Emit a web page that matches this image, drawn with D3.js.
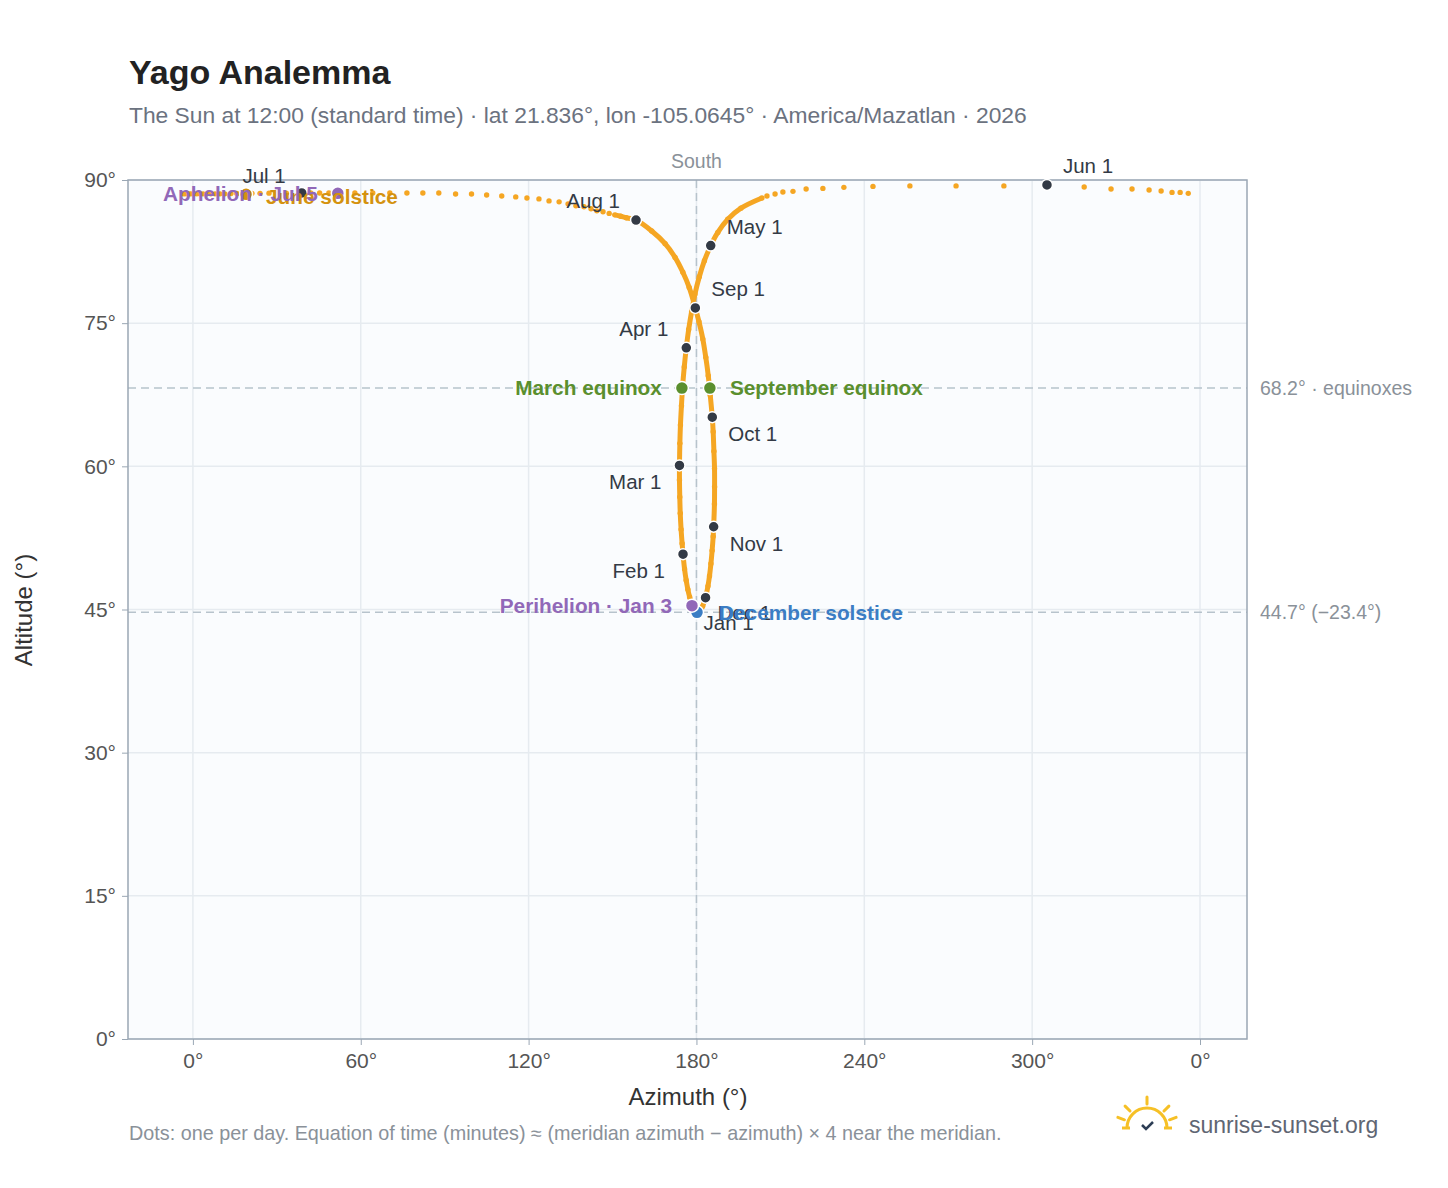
<!DOCTYPE html>
<html>
<head>
<meta charset="utf-8">
<script src="https://cdn.jsdelivr.net/npm/d3@7"></script>
<style>
  body { margin: 0; background: #fff; font-family: "Liberation Sans", Arial, sans-serif; }
</style>
</head>
<body>
<svg id="chart" width="1448" height="1188"></svg>
<script>
// noon sun positions (azimuth unwrapped to the plotted domain)
var dates = ['Jan 1','Jan 6','Jan 11','Jan 16','Jan 21','Jan 26','Feb 1','Feb 5','Feb 10','Feb 15','Feb 20','Feb 25',
  'Mar 1','Mar 7','Mar 12','Mar 17','Mar 22','Mar 27','Apr 1','Apr 6','Apr 11','Apr 16','Apr 21','Apr 26',
  'May 1','May 6','May 11','May 16','May 20','May 21','May 22','May 23','May 24','May 25','May 26','May 27','May 28','May 29','May 30','May 31',
  'Jun 1','Jun 2','Jun 3','Jun 4','Jun 5','Jun 6','Jun 7','Jun 8','Jun 9',
  'Jun 10','Jun 11','Jun 12','Jun 13','Jun 14','Jun 15','Jun 16','Jun 17','Jun 18','Jun 19','Jun 20','Jun 21','Jun 22','Jun 23','Jun 24','Jun 25','Jun 26','Jun 27','Jun 28','Jun 29','Jun 30',
  'Jul 1','Jul 2','Jul 3','Jul 4','Jul 5','Jul 6','Jul 7','Jul 8','Jul 9','Jul 10','Jul 11','Jul 12','Jul 13','Jul 14','Jul 15','Jul 16','Jul 17','Jul 18','Jul 19','Jul 20',
  'Jul 21','Jul 22','Jul 23','Jul 24','Jul 25','Jul 26','Jul 27','Jul 28','Jul 29','Jul 30','Jul 31',
  'Aug 1','Aug 6','Aug 11','Aug 16','Aug 21','Aug 26','Sep 1','Sep 5','Sep 10','Sep 15','Sep 20','Sep 25',
  'Oct 1','Oct 5','Oct 10','Oct 15','Oct 20','Oct 25','Nov 1','Nov 4','Nov 9','Nov 14','Nov 19','Nov 24',
  'Dec 1','Dec 4','Dec 9','Dec 14','Dec 19','Dec 24','Dec 29'];
var azimuth = [178.95,178.25,177.55,176.93,176.32,175.75,175.2,174.88,174.51,174.21,174.04,173.93,
  173.93,174.07,174.28,174.64,175.06,175.64,176.37,177.22,178.29,179.47,181.02,182.85,
  185.1,187.64,191.2,195.9,203.4,205.2,208.1,210.9,214.5,219.2,225.2,232.7,243.1,256.3,272.8,289.9,
  305.3,318.6,328.2,335.7,341.8,346.1,350.0,352.9,355.8,
  -3.6,-2.9,-2.1,-1.4,-0.7,0.4,1.4,2.5,3.6,5.0,6.4,7.9,9.7,11.4,13.6,15.7,18.2,21.1,24.0,27.2,33.4,
  38.9,42.1,45.3,48.6,51.8,57.9,64.3,70.4,76.5,82.2,87.9,93.9,99.6,105.0,110.4,115.4,119.4,123.7,127.3,130.9,
  134.1,136.9,139.8,142.3,144.4,146.6,148.8,150.8,152.9,154.9,156.7,
  158.4,164.0,168.8,172.35,175.14,177.4,179.6,180.89,182.27,183.33,184.22,184.92,
  185.66,185.98,186.24,186.46,186.48,186.43,186.15,185.98,185.6,185.17,184.67,184.11,
  183.25,182.87,182.19,181.5,180.8,180.07,179.34];
var altitude = [45.16,45.64,46.32,47.1,48.07,49.25,50.8,51.91,53.39,55.08,56.78,58.58,
  60.1,62.41,64.33,66.36,68.38,70.4,72.42,74.34,76.25,78.06,79.86,81.55,
  83.13,84.51,85.88,87.05,88.12,88.33,88.54,88.75,88.81,89.06,89.12,89.23,89.33,89.38,89.38,89.38,
  89.48,89.27,89.06,89.06,88.96,88.85,88.7,88.7,88.6,
  88.55,88.55,88.55,88.55,88.55,88.55,88.55,88.55,88.55,88.55,88.55,88.55,88.55,88.55,88.58,88.58,88.6,88.6,88.6,88.62,88.62,
  88.64,88.64,88.64,88.64,88.64,88.64,88.64,88.64,88.64,88.64,88.64,88.54,88.54,88.43,88.33,88.23,88.12,88.02,87.81,87.71,
  87.5,87.29,87.19,86.98,86.77,86.67,86.5,86.35,86.2,86.05,85.93,
  85.8,84.65,83.33,81.89,80.33,78.75,76.6,75.16,73.35,71.43,69.5,67.48,
  65.15,63.62,61.59,59.77,57.85,56.05,53.67,52.66,51.17,49.8,48.52,47.45,
  46.24,45.9,45.33,44.94,44.76,44.76,44.86];

// first-of-month markers, label offsets in px
var monthLabels = ['Jan 1','Feb 1','Mar 1','Apr 1','May 1','Jun 1','Jul 1','Aug 1','Sep 1','Oct 1','Nov 1','Dec 1'];
var monthLabelDx = [10,-18,-18,-18,16,16,-16,-16,16,16,16,12];
var monthLabelDy = [22,24,24,-12,-12,-12,-10,-12,-12,24,24,22];
var monthLabelAnchor = ['start','end','end','end','start','start','end','end','start','start','start','start'];

var events = ['March equinox','September equinox','December solstice','June solstice','Perihelion · Jan 3','Aphelion · Jul 5'];
var eventAz = [174.8,184.8,180.2,19.0,178.4,51.8];
var eventAlt = [68.2,68.2,44.7,88.5,45.4,88.6];
var eventColor = ['#5a8f2e','#5a8f2e','#3b7dc4','#d4920f','#9168b8','#9168b8'];
var eventDx = [-20,20,22,20,-20,-20];
var eventDy = [7,7,8,10,7,8];
var eventAnchor = ['end','start','start','start','end','end'];

var xTicks = [0,60,120,180,240,300,360];
var yTicks = [0,15,30,45,60,75,90];
var refLines = [68.2,44.7];
var refLabels = ['68.2° · equinoxes','44.7° (−23.4°)'];

var svg = d3.select('#chart');
var margin = {left: 128, top: 180, right: 1247, bottom: 1039};
var x = d3.scaleLinear().domain([-23.2, 376.8]).range([margin.left, margin.right]);
var y = d3.scaleLinear().domain([0, 90]).range([margin.bottom, margin.top]);

var pts = dates.map(function(d, i) { return {date: d, az: azimuth[i], alt: altitude[i]}; });

svg.append('text').attr('x', 129).attr('y', 84).attr('font-size', 34).attr('font-weight', 'bold')
  .attr('fill', '#222').text('Yago Analemma');
svg.append('text').attr('x', 129).attr('y', 123).attr('font-size', 22.8).attr('fill', '#6b7280')
  .text('The Sun at 12:00 (standard time) · lat 21.836°, lon -105.0645° · America/Mazatlan · 2026');

svg.append('rect').attr('x', margin.left).attr('y', margin.top)
  .attr('width', margin.right - margin.left).attr('height', margin.bottom - margin.top)
  .attr('fill', '#fafcfe');

var grid = svg.append('g');
grid.selectAll('.vx').data(xTicks).enter().append('line')
  .attr('x1', x).attr('x2', x).attr('y1', margin.top).attr('y2', margin.bottom)
  .attr('stroke', '#e6ebf0').attr('stroke-width', 1.5);
grid.selectAll('.hy').data(yTicks).enter().append('line')
  .attr('y1', y).attr('y2', y).attr('x1', margin.left).attr('x2', margin.right)
  .attr('stroke', '#e6ebf0').attr('stroke-width', 1.5);

var xAxis = svg.append('g').attr('transform', 'translate(0,' + margin.bottom + ')')
  .call(d3.axisBottom(x).tickValues(xTicks).tickSize(6).tickPadding(8)
    .tickFormat(function(d) { return (d % 360) + '°'; }));
var yAxis = svg.append('g').attr('transform', 'translate(' + margin.left + ',0)')
  .call(d3.axisLeft(y).tickValues(yTicks).tickSize(6).tickPadding(6)
    .tickFormat(function(d) { return d + '°'; }));
[xAxis, yAxis].forEach(function(a) {
  a.select('.domain').remove();
  a.selectAll('line').attr('stroke', '#9aa7b4');
  a.selectAll('text').attr('font-size', 21).attr('fill', '#555')
    .attr('font-family', '"Liberation Sans", Arial, sans-serif');
});

// reference lines
svg.selectAll('.ref').data(refLines).enter().append('line')
  .attr('x1', margin.left).attr('x2', margin.right).attr('y1', y).attr('y2', y)
  .attr('stroke', '#b7c3cc').attr('stroke-width', 1.5).attr('stroke-dasharray', '8,5');
svg.selectAll('.reftext').data(refLines).enter().append('text')
  .attr('x', margin.right + 13).attr('y', function(d) { return y(d) + 7; })
  .attr('font-size', 19.5).attr('fill', '#8a9199').text(function(d, i) { return refLabels[i]; });
svg.append('line').attr('x1', x(180)).attr('x2', x(180)).attr('y1', margin.top).attr('y2', margin.bottom)
  .attr('stroke', '#b7c3cc').attr('stroke-width', 1.5).attr('stroke-dasharray', '8,5');
svg.append('text').attr('x', x(180)).attr('y', 168).attr('text-anchor', 'middle')
  .attr('font-size', 19.5).attr('fill', '#8a9199').text('South');

svg.append('rect').attr('x', margin.left).attr('y', margin.top)
  .attr('width', margin.right - margin.left).attr('height', margin.bottom - margin.top)
  .attr('fill', 'none').attr('stroke', '#9aa7b4').attr('stroke-width', 1.5);

// analemma: dense parts as a thick line, all days as dots
var line = d3.line().x(function(d) { return x(d.az); }).y(function(d) { return y(d.alt); })
  .curve(d3.curveCatmullRom);
var iMay20 = dates.indexOf('May 20'), iJul28 = dates.indexOf('Jul 28');
var loop = pts.slice(iJul28).concat(pts.slice(0, iMay20 + 1));
svg.append('path').datum(loop).attr('d', line).attr('fill', 'none')
  .attr('stroke', '#f5a623').attr('stroke-width', 5).attr('stroke-linejoin', 'round');
svg.selectAll('.day').data(pts).enter().append('circle')
  .attr('cx', function(d) { return x(d.az); }).attr('cy', function(d) { return y(d.alt); })
  .attr('r', 2.7).attr('fill', '#f5a623');

// months
var months = monthLabels.map(function(m, i) {
  var p = pts[dates.indexOf(m)];
  return {label: m, az: p.az, alt: p.alt, dx: monthLabelDx[i], dy: monthLabelDy[i], anchor: monthLabelAnchor[i]};
});
svg.selectAll('.month').data(months).enter().append('circle')
  .attr('cx', function(d) { return x(d.az); }).attr('cy', function(d) { return y(d.alt); })
  .attr('r', 5.5).attr('fill', '#333a45').attr('stroke', '#fff').attr('stroke-width', 1.5);
svg.selectAll('.monthtext').data(months).enter().append('text')
  .attr('x', function(d) { return x(d.az) + d.dx; }).attr('y', function(d) { return y(d.alt) + d.dy; })
  .attr('text-anchor', function(d) { return d.anchor; })
  .attr('font-size', 20.5).attr('fill', '#333a45').text(function(d) { return d.label; });

// events
var ev = events.map(function(e, i) {
  return {label: e, az: eventAz[i], alt: eventAlt[i], color: eventColor[i], dx: eventDx[i], dy: eventDy[i], anchor: eventAnchor[i]};
});
svg.selectAll('.ev').data(ev).enter().append('circle')
  .attr('cx', function(d) { return x(d.az); }).attr('cy', function(d) { return y(d.alt); })
  .attr('r', 6.5).attr('fill', function(d) { return d.color; }).attr('stroke', '#fff').attr('stroke-width', 1.5);
svg.selectAll('.evtext').data(ev).enter().append('text')
  .attr('x', function(d) { return x(d.az) + d.dx; }).attr('y', function(d) { return y(d.alt) + d.dy; })
  .attr('text-anchor', function(d) { return d.anchor; })
  .attr('font-size', 20.8).attr('font-weight', 'bold').attr('fill', function(d) { return d.color; })
  .text(function(d) { return d.label; });

// axis titles
svg.append('text').attr('x', 688).attr('y', 1105).attr('text-anchor', 'middle')
  .attr('font-size', 24).attr('fill', '#333').text('Azimuth (°)');
svg.append('text').attr('transform', 'translate(32,610) rotate(-90)').attr('text-anchor', 'middle')
  .attr('font-size', 24).attr('fill', '#333').text('Altitude (°)');

svg.append('text').attr('x', 129).attr('y', 1140).attr('font-size', 19.8).attr('fill', '#8a9199')
  .text('Dots: one per day. Equation of time (minutes) ≈ (meridian azimuth − azimuth) × 4 near the meridian.');

// logo
var logo = svg.append('g').attr('transform', 'translate(1147,1128)');
logo.append('path').attr('d', 'M-20,0 A20,20 0 0 1 20,0').attr('fill', 'none')
  .attr('stroke', '#f6c026').attr('stroke-width', 3);
[-90, -135, -45, -160, -20].forEach(function(a) {
  var r = a * Math.PI / 180;
  logo.append('line').attr('x1', 24 * Math.cos(r)).attr('y1', 24 * Math.sin(r))
    .attr('x2', 31 * Math.cos(r)).attr('y2', 31 * Math.sin(r))
    .attr('stroke', '#f6c026').attr('stroke-width', 3).attr('stroke-linecap', 'round');
});
logo.append('line').attr('x1', -25).attr('x2', -17).attr('y1', 0).attr('y2', 0).attr('stroke', '#f6c026').attr('stroke-width', 3);
logo.append('line').attr('x1', 17).attr('x2', 25).attr('y1', 0).attr('y2', 0).attr('stroke', '#f6c026').attr('stroke-width', 3);
logo.append('path').attr('d', 'M-5,-3 L-1,1 L6,-6').attr('fill', 'none').attr('stroke', '#2d3e55').attr('stroke-width', 2.5);
svg.append('text').attr('x', 1189).attr('y', 1133).attr('font-size', 23).attr('fill', '#5f6673')
  .text('sunrise-sunset.org');
</script>
</body>
</html>
